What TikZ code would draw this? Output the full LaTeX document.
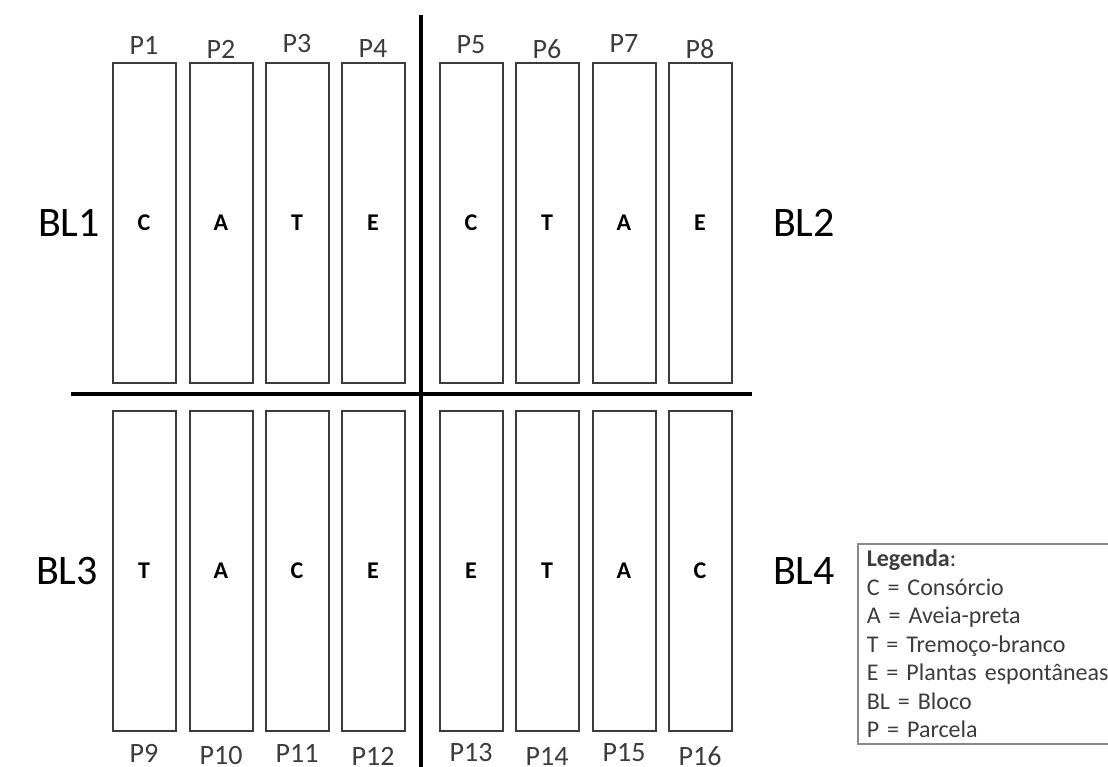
\documentclass[tikz,border=0pt]{standalone}
\usepackage{fontspec}
\setmainfont{Carlito}
\usepackage{xcolor}
\usepackage{tikz}
\definecolor{plotgray}{HTML}{3C3C3C}
\definecolor{legendgray}{HTML}{8A8A8A}

\begin{document}
\begin{tikzpicture}[x=1pt, y=-1pt,
  plot/.style={draw=plotgray, line width=2pt, rectangle, minimum width=63pt, minimum height=320pt, inner sep=0pt, font=\fontsize{24}{28}\selectfont\bfseries},
  plabel/.style={text=plotgray, inner sep=0pt, font=\fontsize{28}{32}\selectfont},
  block/.style={inner sep=0pt, font=\fontsize{42}{48}\selectfont},
  divider/.style={line width=4pt}]
  \useasboundingbox (0,0) rectangle (1108,767);

  % BL1
  \node[block] (bl1) at (69,223) {BL1};
  \node[plot] (p1) at (144,223) {C};
  \node[plot] (p2) at (221,223) {A};
  \node[plot] (p3) at (297,223) {T};
  \node[plot] (p4) at (373,223) {E};
  \node[plabel] (lp1) at (144,45) {P1};
  \node[plabel] (lp2) at (221,49) {P2};
  \node[plabel] (lp3) at (297,44) {P3};
  \node[plabel] (lp4) at (373,49) {P4};

  % BL2
  \node[block] (bl2) at (804,223) {BL2};
  \node[plot] (p5) at (471,223) {C};
  \node[plot] (p6) at (547,223) {T};
  \node[plot] (p7) at (624,223) {A};
  \node[plot] (p8) at (700,223) {E};
  \node[plabel] (lp5) at (471,45) {P5};
  \node[plabel] (lp6) at (547,49) {P6};
  \node[plabel] (lp7) at (624,44) {P7};
  \node[plabel] (lp8) at (700,49) {P8};

  % BL3
  \node[block] (bl3) at (67,571) {BL3};
  \node[plot] (p9) at (144,571) {T};
  \node[plot] (p10) at (221,571) {A};
  \node[plot] (p11) at (297,571) {C};
  \node[plot] (p12) at (373,571) {E};
  \node[plabel] (lp9) at (144,753) {P9};
  \node[plabel] (lp10) at (221,756) {P10};
  \node[plabel] (lp11) at (297,753) {P11};
  \node[plabel] (lp12) at (373,756) {P12};

  % BL4
  \node[block] (bl4) at (804,571) {BL4};
  \node[plot] (p13) at (471,571) {E};
  \node[plot] (p14) at (547,571) {T};
  \node[plot] (p15) at (624,571) {A};
  \node[plot] (p16) at (700,571) {C};
  \node[plabel] (lp13) at (471,753) {P13};
  \node[plabel] (lp14) at (547,756) {P14};
  \node[plabel] (lp15) at (624,753) {P15};
  \node[plabel] (lp16) at (700,756) {P16};

  % Block dividers
  \coordinate (vtop) at (421,15);
  \coordinate (vbot) at (421,767);
  \coordinate (hleft) at (71,394);
  \coordinate (hright) at (752,394);
  \draw[divider] (vtop) -- (vbot);
  \draw[divider] (hleft) -- (hright);

  % Legend
  \node[draw=legendgray, line width=1.5pt, anchor=north west, align=left, text width=250pt,
        inner xsep=9pt, inner ysep=6pt, text=plotgray, font=\fontsize{24}{28.5}\selectfont]
    (legend) at (857,543)
    {\textbf{Legenda}:\\ C = Consórcio\\ A = Aveia-preta\\ T = Tremoço-branco\\
     E = Plantas espontâneas\\ BL = Bloco\\ P = Parcela};
\end{tikzpicture}
\end{document}
